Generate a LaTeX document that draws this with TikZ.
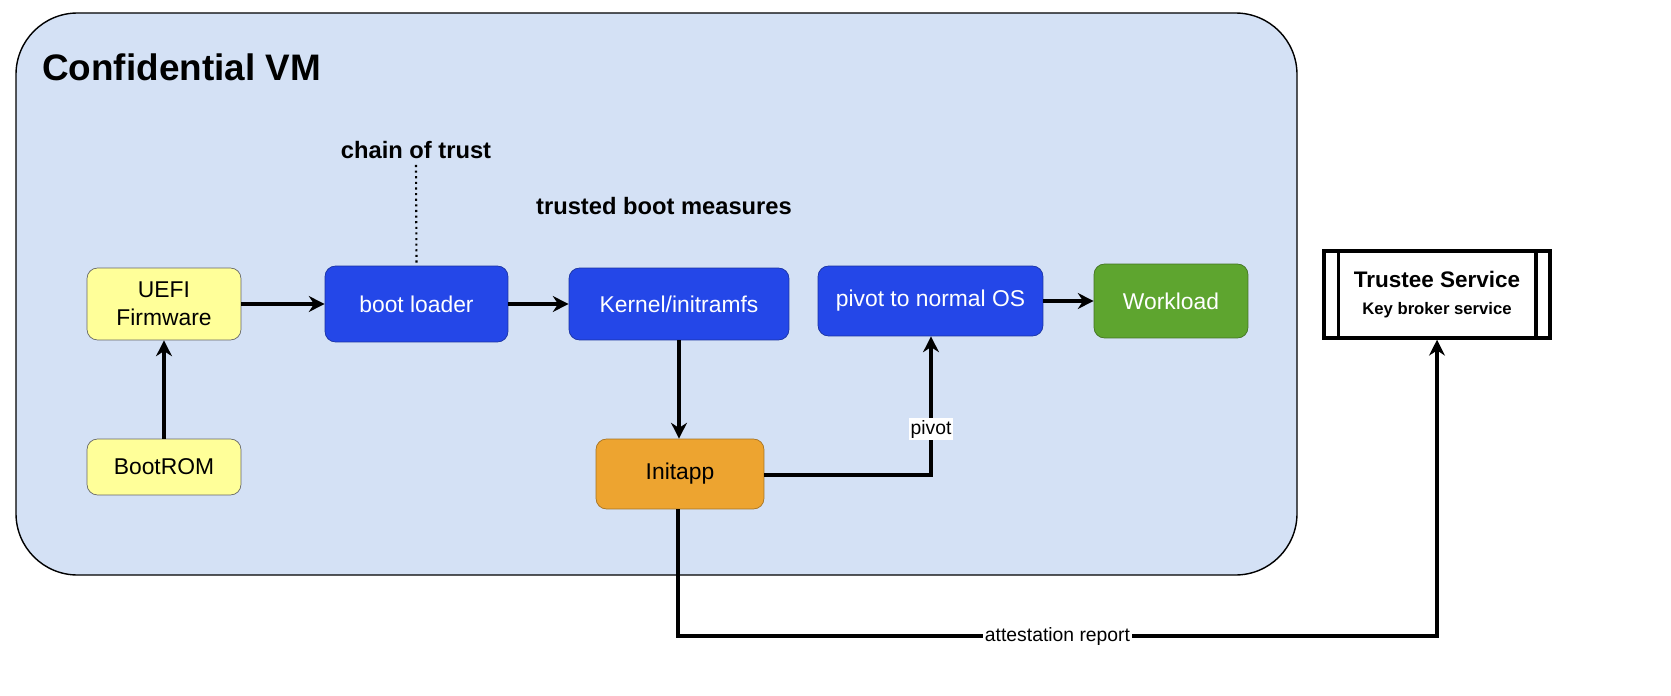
\documentclass[tikz,border=0pt]{standalone}
\usepackage{fontspec}
\setmainfont{Liberation Sans}
\usetikzlibrary{arrows.meta}
\definecolor{vmbg}{HTML}{D4E1F5}
\definecolor{yel}{HTML}{FFFF99}
\definecolor{blu}{HTML}{2447E8}
\definecolor{grn}{HTML}{5EA52F}
\definecolor{org}{HTML}{EDA430}
\begin{document}
\begin{tikzpicture}[x=0.02cm,y=-0.02cm,
 box/.style={rounded corners=6pt,inner sep=0pt,font=\fontsize{13}{16}\selectfont,align=center},
 ybox/.style={box,draw=black!60,fill=yel},
 bbox/.style={box,draw=blu!70!black,fill=blu,text=white},
 arr/.style={line width=2pt,-{Stealth[length=9pt,width=9pt]}},
 lbl/.style={fill=white,inner sep=1pt,font=\fontsize{11}{13}\selectfont}]
\draw[fill=vmbg,rounded corners=35pt,line width=0.8pt] (16,13) rectangle (1297,575);
\node[anchor=west,font=\bfseries\fontsize{21}{25}\selectfont] (title) at (36,67) {Confidential VM};
\node[font=\bfseries\fontsize{13.5}{16}\selectfont] (cot) at (416,150) {chain of trust};
\node[font=\bfseries\fontsize{13.5}{16}\selectfont] (tbm) at (664,206) {trusted boot measures};

\node[ybox,minimum width=3.08cm,minimum height=1.44cm] (uefi) at (164,304) {UEFI\\Firmware};
\node[ybox,minimum width=3.08cm,minimum height=1.12cm] (rom) at (164,467) {BootROM};
\node[bbox,minimum width=3.66cm,minimum height=1.52cm] (bl) at (416.5,304) {boot loader};
\node[bbox,minimum width=4.40cm,minimum height=1.44cm] (kern) at (679,304) {Kernel/initramfs};
\node[bbox,minimum width=4.50cm,minimum height=1.40cm] (piv) at (930.5,301) {pivot to normal OS};
\node[box,draw=grn!70!black,fill=grn,text=white,minimum width=3.08cm,minimum height=1.48cm] (wl) at (1171,301) {Workload};
\node[box,draw=org!70!black,fill=org,minimum width=3.36cm,minimum height=1.40cm] (init) at (680,474) {Initapp};
\node[draw,line width=2pt,minimum width=4.52cm,minimum height=1.74cm,inner sep=0pt,align=center] (tr) at (1437,294.5)
 {{\bfseries\fontsize{12.8}{15}\selectfont Trustee Service}\\[3pt]{\bfseries\fontsize{9.5}{11}\selectfont Key broker service}};
\draw[line width=2pt] ([xshift=0.32cm]tr.north west) -- ([xshift=0.32cm]tr.south west);
\draw[line width=2pt] ([xshift=-0.32cm]tr.north east) -- ([xshift=-0.32cm]tr.south east);

\draw[dotted,line width=1.2pt] (cot.south) -- (bl.north);
\draw[arr] (uefi) -- (bl);
\draw[arr] (bl) -- (kern);
\draw[arr] (piv) -- (wl);
\draw[arr] (rom) -- (uefi);
\draw[arr] (kern.south) -- (init.north -| kern.south);
\coordinate (c1) at (931,475);
\draw[arr] (init.east |- c1) -- (c1) -- node[lbl,pos=0.33]{pivot} (piv.south -| c1);
\coordinate (c2) at (678,636);
\coordinate (c3) at (1437,636);
\draw[arr] (init.south -| c2) -- (c2) -- node[lbl]{attestation report} (c3) -- (tr.south);
\pgfresetboundingbox
\useasboundingbox (0,0) rectangle (1671,696);
\end{tikzpicture}
\end{document}
